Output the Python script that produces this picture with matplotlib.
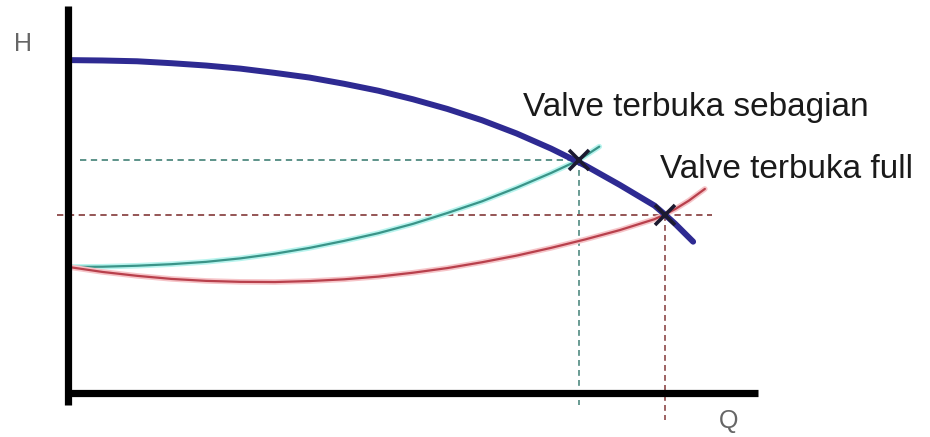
import matplotlib
matplotlib.use("Agg")
import matplotlib.pyplot as plt

# Flow rate samples (Q) and heads (H) for the pump and the two system curves
q_pump = [0, 5, 10, 15, 20, 25, 30, 35, 40, 45, 50, 55, 60, 65, 70, 75, 80, 85, 86.5, 88, 90.6]
h_pump = [85.8, 85.7, 85.5, 85.0, 84.4, 83.6, 82.5, 81.3, 79.7, 77.9, 75.7, 73.2,
          70.3, 66.9, 63.0, 58.6, 53.6, 48.3, 46.0, 43.6, 39.0]

q_partial = [0, 5, 10, 15, 20, 25, 30, 35, 40, 45, 50, 55, 60, 65, 70, 74, 77]
h_partial = [32.5, 32.55, 32.8, 33.2, 33.8, 34.7, 35.9, 37.4, 39.2, 41.2, 43.6, 46.4,
             49.4, 52.9, 56.7, 60.0, 63.5]

q_full = [0, 5, 10, 15, 20, 25, 30, 35, 40, 45, 50, 55, 60, 65, 70, 75, 80, 85, 86.5, 88, 90, 92.3]
h_full = [32.5, 31.2, 30.2, 29.4, 28.9, 28.65, 28.6, 28.85, 29.3, 30.0, 31.0, 32.2,
          33.7, 35.4, 37.4, 39.6, 42.0, 44.8, 46.0, 47.4, 49.6, 52.6]

# Operating points: partially opened valve, fully opened valve
op_q = [74.0, 86.5]
op_h = [60.0, 46.0]
op_labels = ["Valve terbuka sebagian", "Valve terbuka full"]

axis_labels = ["H", "Q"]

fig = plt.figure(figsize=(9.3, 4.37), dpi=100)
ax = fig.add_axes([0, 0, 1, 1])
ax.set_xlim(-9.855, 124.93)
ax.set_ylim(-11.34, 101.29)
ax.axis("off")

cyan_dash = "#4f8a80"
red_dash = "#8c4848"
dash = (0, (3.5, 2.5))

# Guide lines from the operating points to the axes
ax.plot([1.7, op_q[0]], [op_h[0], op_h[0]], ls=dash, color=cyan_dash, lw=1.3, zorder=2)
ax.plot([op_q[0], op_q[0]], [op_h[0], -3.1], ls=dash, color=cyan_dash, lw=1.2, zorder=2)
ax.plot([-1.6, 93.3], [op_h[1], op_h[1]], ls=dash, color=red_dash, lw=1.3, zorder=2)
ax.plot([op_q[1], op_q[1]], [op_h[1], -7.0], ls=dash, color=red_dash, lw=1.2, zorder=2)

# System curves
ax.plot(q_partial, h_partial, color="#b8f4ee", lw=4.0, solid_capstyle="round", zorder=3)
ax.plot(q_partial, h_partial, color="#3a9488", lw=1.6, solid_capstyle="round", zorder=3)
ax.plot(q_full, h_full, color="#f6c4c8", lw=4.0, solid_capstyle="round", zorder=3)
ax.plot(q_full, h_full, color="#b8404c", lw=1.6, solid_capstyle="round", zorder=3)

# Pump curve
ax.plot(q_pump, h_pump, color="#2e2a92", lw=4.3, solid_capstyle="round",
        solid_joinstyle="round", zorder=4)

# Axes drawn as heavy black strokes
ax.plot([0, 0], [-3.1, 99.7], color="black", lw=5.2, solid_capstyle="butt", zorder=5)
ax.plot([-0.4, 100.0], [0, 0], color="black", lw=5.2, solid_capstyle="butt", zorder=5)

# Operating point markers
ax.plot(op_q, op_h, ls="none", marker="x", markersize=15, mew=2.6, color="#1c1a30", zorder=6)

font = ["Liberation Sans", "DejaVu Sans"]
ax.text(66.0, 71.4, op_labels[0], fontsize=24, family=font, color="#1a1a1a",
        ha="left", va="baseline", zorder=7)
ax.text(85.8, 55.4, op_labels[1], fontsize=24, family=font, color="#1a1a1a",
        ha="left", va="baseline", zorder=7)

ax.text(-6.52, 89.9, axis_labels[0], fontsize=18, family=font, color="#666666",
        ha="center", va="center")
ax.text(95.8, -7.2, axis_labels[1], fontsize=18, family=font, color="#666666",
        ha="center", va="center")

fig.savefig("out.png", dpi=100)
